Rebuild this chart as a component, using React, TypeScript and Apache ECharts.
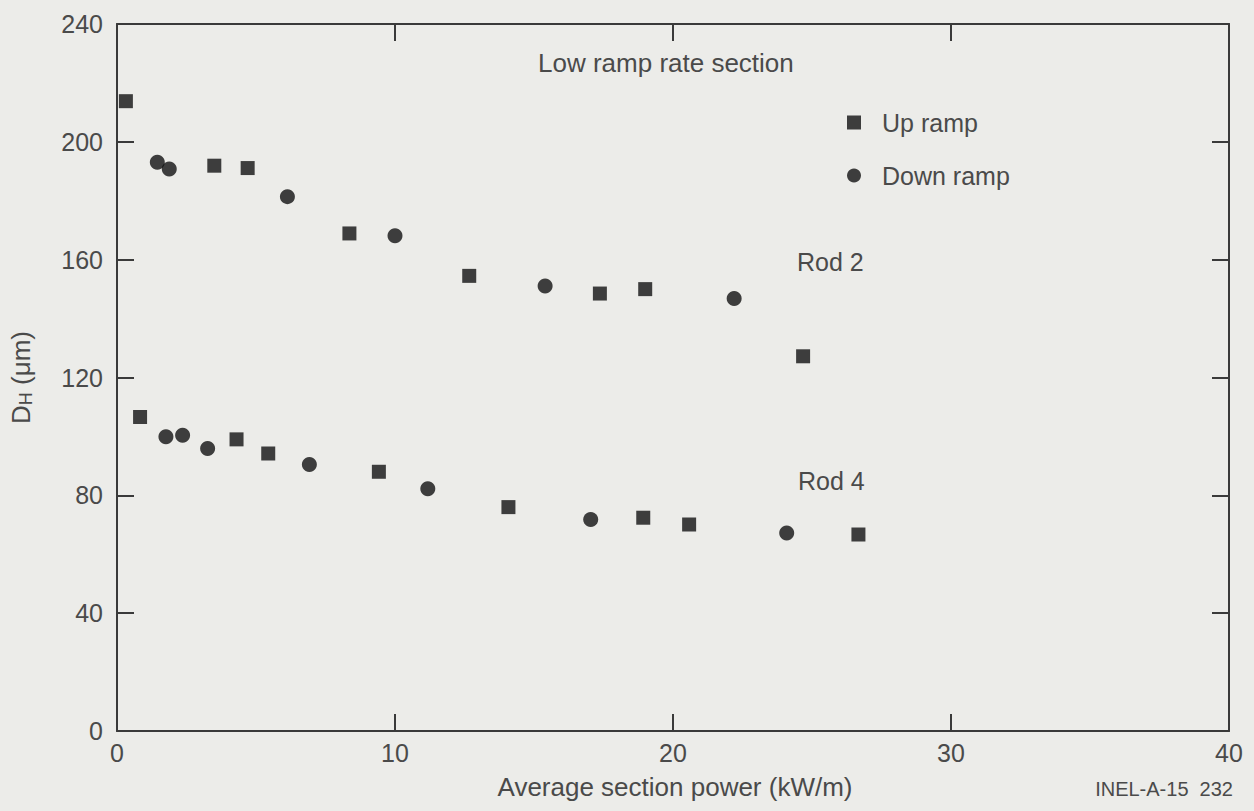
import React, { useEffect, useRef } from "react";
import * as echarts from "echarts";

// Average section power (kW/m) and D_H (µm)
const rod2UpX = [0.32, 3.5, 4.7, 8.36, 12.67, 17.37, 19.0, 24.68];
const rod2UpY = [213.8, 191.9, 191.1, 168.9, 154.5, 148.5, 150, 127.2];
const rod2DownX = [1.45, 1.88, 6.13, 10.0, 15.4, 22.2];
const rod2DownY = [193.1, 190.8, 181.4, 168.1, 151.1, 146.8];
const rod4UpX = [0.83, 4.3, 5.44, 9.42, 14.08, 18.93, 20.58, 26.67];
const rod4UpY = [106.6, 99.0, 94.2, 88.0, 76.0, 72.4, 70.1, 66.7];
const rod4DownX = [1.76, 2.36, 3.26, 6.92, 11.18, 17.04, 24.09];
const rod4DownY = [99.9, 100.4, 95.9, 90.5, 82.2, 71.8, 67.2];

const xTicks = [0, 10, 20, 30, 40];
const yTicks = [0, 40, 80, 120, 160, 200, 240];

const FONT = "Liberation Sans";
const TEXT = "#4a4a4a";
const AXIS = "#3a3a3a";
const FS = 25;

const pairs = (xs: number[], ys: number[]) => xs.map((x, i) => [x, ys[i]]);

export default function App() {
  const ref = useRef<HTMLDivElement>(null);
  useEffect(() => {
    document.body.style.margin = "0";
    const chart = echarts.init(ref.current!, null, { renderer: "svg" });
    const axisLine = { show: true, onZero: false, lineStyle: { color: AXIS, width: 2 } };
    const tick = { show: true, inside: true, length: 17, lineStyle: { color: AXIS, width: 2 } };
    const txt = (text: string, x: number, y: number, align = "left", size = FS) => ({
      type: "text",
      x,
      y,
      style: { text, fill: TEXT, fontSize: size, fontFamily: FONT, align, verticalAlign: "middle" },
    });
    chart.setOption({
      animation: false,
      backgroundColor: "#ecece9",
      textStyle: { fontFamily: FONT },
      grid: { left: 117, right: 25, top: 24, bottom: 80 },
      xAxis: [
        {
          type: "value", min: xTicks[0], max: xTicks[xTicks.length - 1], interval: 10,
          axisLine, axisTick: tick, splitLine: { show: false },
          axisLabel: { color: TEXT, fontSize: FS, margin: 9, fontFamily: FONT },
        },
        {
          type: "value", position: "top", min: 0, max: 40, interval: 10,
          axisLine, axisTick: tick, splitLine: { show: false }, axisLabel: { show: false },
        },
      ],
      yAxis: [
        {
          type: "value", min: yTicks[0], max: yTicks[yTicks.length - 1], interval: 40,
          axisLine, axisTick: tick, splitLine: { show: false },
          axisLabel: { color: TEXT, fontSize: FS, margin: 14, fontFamily: FONT },
          name: "{d|D}{h|H}{d| (μm)}",
          nameLocation: "middle",
          nameRotate: 90,
          nameGap: 82,
          nameTextStyle: {
            rich: {
              d: { fontSize: 26, color: TEXT, fontFamily: FONT },
              h: { fontSize: 18, color: TEXT, fontFamily: FONT, padding: [10, 0, 0, 0] },
            },
          },
        },
        {
          type: "value", position: "right", min: 0, max: 240, interval: 40,
          axisLine, axisTick: tick, splitLine: { show: false }, axisLabel: { show: false },
        },
      ],
      legend: {
        orient: "vertical",
        left: 842,
        top: 105,
        itemGap: 28,
        itemWidth: 14,
        itemHeight: 14,
        textStyle: { color: TEXT, fontSize: FS, fontFamily: FONT, padding: [0, 0, 0, 16] },
        data: [
          { name: "Up ramp", icon: "rect", itemStyle: { color: "#111111" } },
          { name: "Down ramp", icon: "circle", itemStyle: { color: "#111111" } },
        ],
      },
      series: [
        {
          name: "Up ramp", type: "scatter", symbol: "rect", symbolSize: 14,
          itemStyle: { color: "#111111" },
          data: [...pairs(rod2UpX, rod2UpY), ...pairs(rod4UpX, rod4UpY)],
        },
        {
          name: "Down ramp", type: "scatter", symbol: "circle", symbolSize: 15,
          itemStyle: { color: "#111111" },
          data: [...pairs(rod2DownX, rod2DownY), ...pairs(rod4DownX, rod4DownY)],
        },
      ],
      graphic: [
        txt("Low ramp rate section", 538, 63, "left", 26),
        txt("Rod 2", 797, 262),
        txt("Rod 4", 798, 481),
        txt("Average section power (kW/m)", 675, 787, "center", 26),
        txt("INEL-A-15  232", 1233, 789, "right", 20),
      ],
    });
    return () => chart.dispose();
  }, []);
  return <div ref={ref} style={{ width: 1254, height: 811 }} />;
}
